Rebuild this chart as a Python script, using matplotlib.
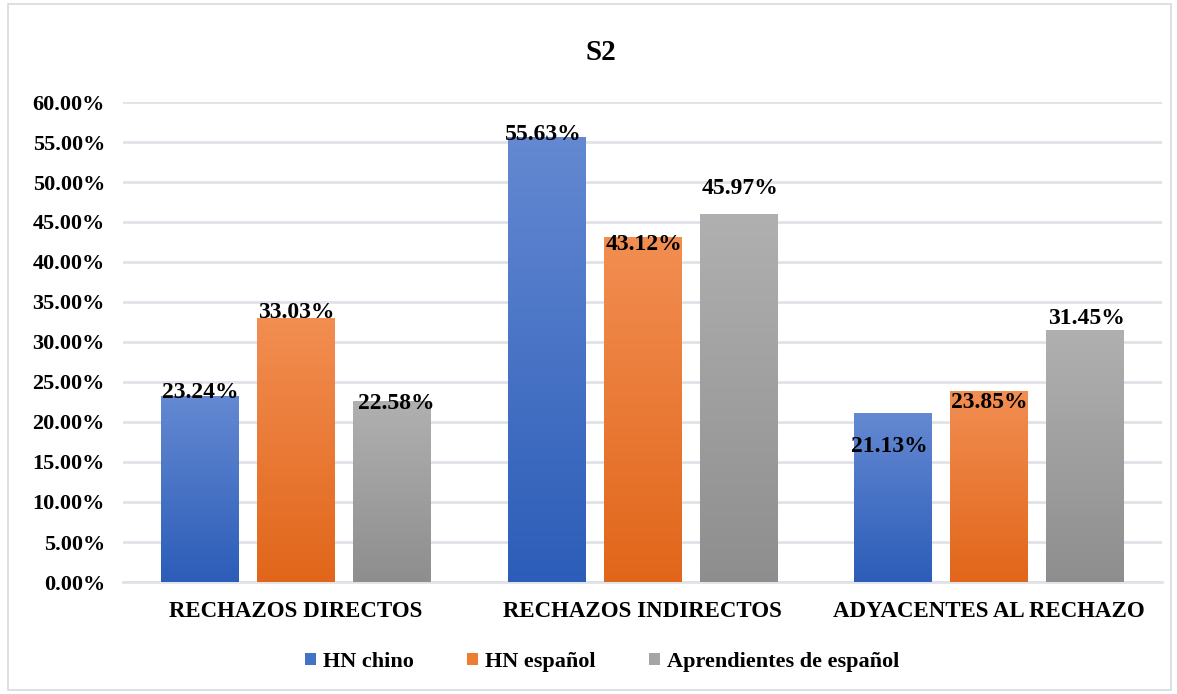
import numpy as np
import matplotlib.pyplot as plt
from matplotlib.colors import LinearSegmentedColormap
from matplotlib.patches import Rectangle, Patch

# -----------------------------
# Data
# -----------------------------
categories = ["RECHAZOS DIRECTOS", "RECHAZOS INDIRECTOS", "ADYACENTES AL RECHAZO"]
series_names = ["HN chino", "HN español", "Aprendientes de español"]
hn_chino = [23.24, 55.63, 21.13]
hn_espanol = [33.03, 43.12, 23.85]
aprendientes = [22.58, 45.97, 31.45]
y_ticks = [0, 5, 10, 15, 20, 25, 30, 35, 40, 45, 50, 55, 60]

# label nudges in pixels (dx, dy) from the bar top, per series / per category
label_offsets = [
    [(0, 4), (-3, 2), (-4, -34)],
    [(0, 5), (1, -7), (0, -11)],
    [(4, -2), (2, 26), (2, 12)],
]

# gradient colours: (top, bottom)
gradients = [
    ("#6489d2", "#2c5db8"),
    ("#f28e52", "#e1661a"),
    ("#b0b0b0", "#8e8e8e"),
]
legend_colors = ["#4472c4", "#ed7d31", "#a5a5a5"]

plt.rcParams["font.family"] = "Liberation Serif"
plt.rcParams["font.weight"] = "bold"

fig = plt.figure(figsize=(11.77, 6.94), dpi=100)
ax = fig.add_axes([123 / 1177, 1 - 582 / 694, 1039 / 1177, 480 / 694])

# border around the whole chart
fig.patches.append(Rectangle((8 / 1177, 4 / 694), 1163 / 1177, 686 / 694,
                             transform=fig.transFigure, fill=False,
                             edgecolor="#d6d9de", linewidth=1.2))

x = np.arange(len(categories))
width = 0.224
step = 0.277
all_series = [hn_chino, hn_espanol, aprendientes]

for i, values in enumerate(all_series):
    pos = x + (i - 1) * step
    bars = ax.bar(pos, values, width, color="none", edgecolor="none", zorder=3)
    cmap = LinearSegmentedColormap.from_list("g%d" % i, [gradients[i][1], gradients[i][0]])
    grad = np.linspace(0, 1, 256).reshape(-1, 1)
    for j, b in enumerate(bars):
        x0, w, h = b.get_x(), b.get_width(), b.get_height()
        im = ax.imshow(grad, extent=[x0, x0 + w, 0, h], origin="lower",
                       cmap=cmap, aspect="auto", zorder=3)
        im.set_clip_path(b)
        dx, dy = label_offsets[i][j]
        ax.annotate(f"{values[j]:.2f}%", (pos[j], values[j]),
                    xytext=(dx, dy), textcoords="offset pixels",
                    ha="center", va="center", fontsize=17, fontweight="bold",
                    color="black", zorder=5)

ax.set_xlim(-0.5, 2.5)
ax.set_ylim(0, 60)
ax.set_yticks(y_ticks)
ax.set_yticklabels([f"{t:.2f}%" for t in y_ticks], fontsize=16, fontweight="bold")
ax.set_xticks(x)
ax.set_xticklabels(categories, fontsize=16.5, fontweight="bold")
ax.tick_params(axis="both", length=0)
ax.tick_params(axis="y", pad=13)
ax.tick_params(axis="x", pad=14)

ax.grid(axis="y", color="#dfe2e8", linewidth=2, zorder=0)
ax.set_axisbelow(True)
for side in ["left", "right", "top"]:
    ax.spines[side].set_visible(False)
ax.spines["bottom"].set_color("#dfe2e8")
ax.spines["bottom"].set_linewidth(2)

fig.text(601 / 1177, 1 - 52 / 694, "S2", ha="center", va="center",
         fontsize=21, fontweight="bold")

handles = [Patch(facecolor=c, edgecolor="none") for c in legend_colors]
fig.legend(handles, series_names, loc="center", bbox_to_anchor=(602 / 1177, 1 - 662 / 694),
           ncol=3, frameon=False, fontsize=16, handlelength=0.5, handleheight=0.5,
           handletextpad=0.3, columnspacing=2.4)

fig.savefig("out.png", dpi=100)
